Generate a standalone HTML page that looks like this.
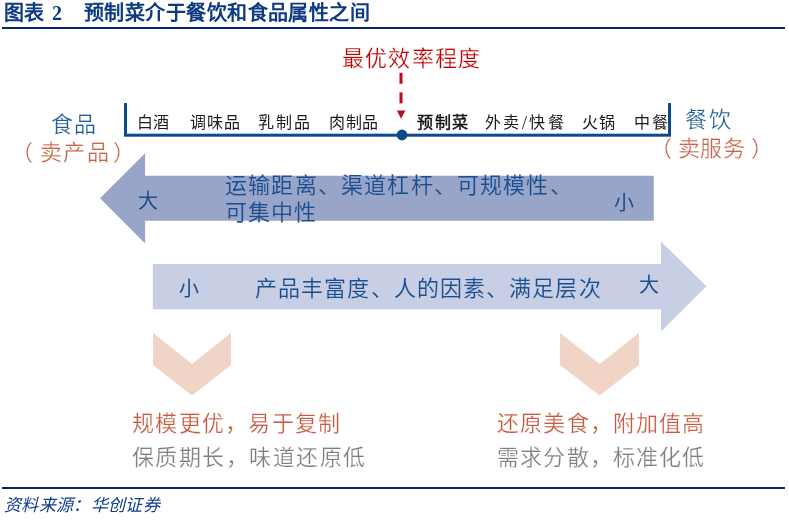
<!DOCTYPE html>
<html lang="zh-CN"><head><meta charset="utf-8">
<style>
html,body{margin:0;padding:0;background:#fff;}
body{width:789px;height:521px;position:relative;overflow:hidden;font-family:"Liberation Serif",serif;}
.t{position:absolute;white-space:nowrap;line-height:1;will-change:transform;}
svg{position:absolute;left:0;top:0;}
</style></head><body>
<svg width="789" height="521" viewBox="0 0 789 521">
  <rect x="2" y="27" width="783" height="2" fill="#04286E"/>
  <rect x="2" y="487" width="783" height="2" fill="#04286E"/>
  <rect x="124" y="103" width="3" height="33" fill="#0C4A8E"/>
  <rect x="668" y="103" width="3" height="33" fill="#0C4A8E"/>
  <rect x="124" y="133.7" width="547" height="3" fill="#0C4A8E"/>
  <circle cx="402" cy="135" r="5.4" fill="#0C4A8E"/>
  <rect x="399.5" y="72.8" width="3" height="11" fill="#BE0A1E"/>
  <rect x="399.5" y="92.4" width="3" height="11" fill="#BE0A1E"/>
  <polygon points="396.8,110.4 405.4,110.4 401.1,118.8" fill="#BE0A1E"/>
  <polygon points="100,198.3 145.1,153.2 145.1,175.7 653.8,175.7 653.8,220.7 145.1,220.7 145.1,243.4" fill="#98A5C9"/>
  <polygon points="152.8,264 661,264 661,241.5 706.5,286.2 661,331.4 661,309.2 152.8,309.2" fill="#C8CEE3"/>
  <polygon points="153,333 192,364 231,333 231,365 192,395.5 153,365" fill="#F0D5C6"/>
  <polygon points="560,333 599.6,364 639,333 639,365 599.6,395.5 560,365" fill="#F0D5C6"/>
</svg>
<div class="t" style="left:3.60px;top:3.00px;font-size:20px;letter-spacing:-0.32px;color:#0D3A82;font-weight:bold">图表</div>
<div class="t" style="left:52.20px;top:3.40px;font-size:20px;letter-spacing:0.00px;color:#0D3A82;font-weight:bold">2</div>
<div class="t" style="left:84.30px;top:2.50px;font-size:20px;letter-spacing:0.44px;color:#0D3A82;font-weight:bold">预制菜介于餐饮和食品属性之间</div>
<div class="t" style="left:341.60px;top:47.60px;font-size:22px;letter-spacing:1.22px;color:#C00000;-webkit-text-stroke:0.25px #FFFFFF;">最优效率程度</div>
<div class="t" style="left:50.50px;top:114.10px;font-size:22px;letter-spacing:0.80px;color:#1F5C99;-webkit-text-stroke:0.25px #FFFFFF;">食品</div>
<div class="t" style="left:10.90px;top:142.30px;font-size:22px;letter-spacing:0.00px;color:#C8644A;-webkit-text-stroke:0.25px #FFFFFF;">（</div>
<div class="t" style="left:39.50px;top:142.30px;font-size:22px;letter-spacing:1.28px;color:#C8644A;-webkit-text-stroke:0.25px #FFFFFF;">卖产品</div>
<div class="t" style="left:112.50px;top:142.30px;font-size:22px;letter-spacing:0.00px;color:#C8644A;-webkit-text-stroke:0.25px #FFFFFF;">）</div>
<div class="t" style="left:685.00px;top:109.00px;font-size:22px;letter-spacing:1.60px;color:#1F5C99;-webkit-text-stroke:0.25px #FFFFFF;">餐饮</div>
<div class="t" style="left:650.00px;top:138.20px;font-size:22px;letter-spacing:0.00px;color:#C8644A;-webkit-text-stroke:0.25px #FFFFFF;">（</div>
<div class="t" style="left:678.00px;top:138.20px;font-size:22px;letter-spacing:0.40px;color:#C8644A;-webkit-text-stroke:0.25px #FFFFFF;">卖服务</div>
<div class="t" style="left:751.00px;top:138.20px;font-size:22px;letter-spacing:0.00px;color:#C8644A;-webkit-text-stroke:0.25px #FFFFFF;">）</div>
<div class="t" style="left:136.80px;top:115.20px;font-size:16px;letter-spacing:0.32px;color:#1A1A1A;">白酒</div>
<div class="t" style="left:189.60px;top:115.20px;font-size:16px;letter-spacing:1.04px;color:#1A1A1A;">调味品</div>
<div class="t" style="left:257.50px;top:115.20px;font-size:16px;letter-spacing:1.76px;color:#1A1A1A;">乳制品</div>
<div class="t" style="left:328.50px;top:115.20px;font-size:16px;letter-spacing:0.72px;color:#1A1A1A;">肉制品</div>
<div class="t" style="left:416.50px;top:115.20px;font-size:16px;letter-spacing:1.60px;color:#111111;-webkit-text-stroke:0.45px #111111">预制菜</div>
<div class="t" style="left:485.40px;top:115.20px;font-size:16px;letter-spacing:1.60px;color:#1A1A1A;">外卖</div>
<div class="t" style="left:521.80px;top:114.00px;font-size:18px;letter-spacing:0.00px;color:#1A1A1A;">/</div>
<div class="t" style="left:529.00px;top:115.20px;font-size:16px;letter-spacing:3.20px;color:#1A1A1A;">快餐</div>
<div class="t" style="left:581.80px;top:115.20px;font-size:16px;letter-spacing:1.44px;color:#1A1A1A;">火锅</div>
<div class="t" style="left:634.00px;top:115.20px;font-size:16px;letter-spacing:1.60px;color:#1A1A1A;">中餐</div>
<div class="t" style="left:138.10px;top:191.40px;font-size:20px;letter-spacing:0.00px;color:#1A4F90;">大</div>
<div class="t" style="left:224.80px;top:174.70px;font-size:22px;letter-spacing:1.19px;color:#1A4F90;-webkit-text-stroke:0.12px #98A5C9;">运输距离、渠道杠杆、可规模性、</div>
<div class="t" style="left:224.80px;top:202.30px;font-size:22px;letter-spacing:1.01px;color:#1A4F90;-webkit-text-stroke:0.12px #98A5C9;">可集中性</div>
<div class="t" style="left:613.70px;top:193.10px;font-size:20px;letter-spacing:0.00px;color:#1A4F90;">小</div>
<div class="t" style="left:178.50px;top:278.70px;font-size:20px;letter-spacing:0.00px;color:#1A4F90;">小</div>
<div class="t" style="left:255.00px;top:277.70px;font-size:22px;letter-spacing:1.11px;color:#1A4F90;-webkit-text-stroke:0.12px #C8CEE3;">产品丰富度、人的因素、满足层次</div>
<div class="t" style="left:638.60px;top:275.10px;font-size:20px;letter-spacing:0.00px;color:#1A4F90;">大</div>
<div class="t" style="left:131.50px;top:412.50px;font-size:22px;letter-spacing:1.30px;color:#C55A3F;-webkit-text-stroke:0.25px #FFFFFF;">规模更优，易于复制</div>
<div class="t" style="left:131.50px;top:447.00px;font-size:22px;letter-spacing:1.48px;color:#7F7F7F;-webkit-text-stroke:0.25px #FFFFFF;">保质期长，味道还原低</div>
<div class="t" style="left:497.00px;top:412.50px;font-size:22px;letter-spacing:1.18px;color:#C55A3F;-webkit-text-stroke:0.25px #FFFFFF;">还原美食，附加值高</div>
<div class="t" style="left:497.00px;top:447.00px;font-size:22px;letter-spacing:1.18px;color:#7F7F7F;-webkit-text-stroke:0.25px #FFFFFF;">需求分散，标准化低</div>
<div class="t" style="left:3.80px;top:497.20px;font-size:17px;letter-spacing:0.32px;color:#0F3C8C;font-style:italic">资料来源：华创证券</div>
</body></html>
